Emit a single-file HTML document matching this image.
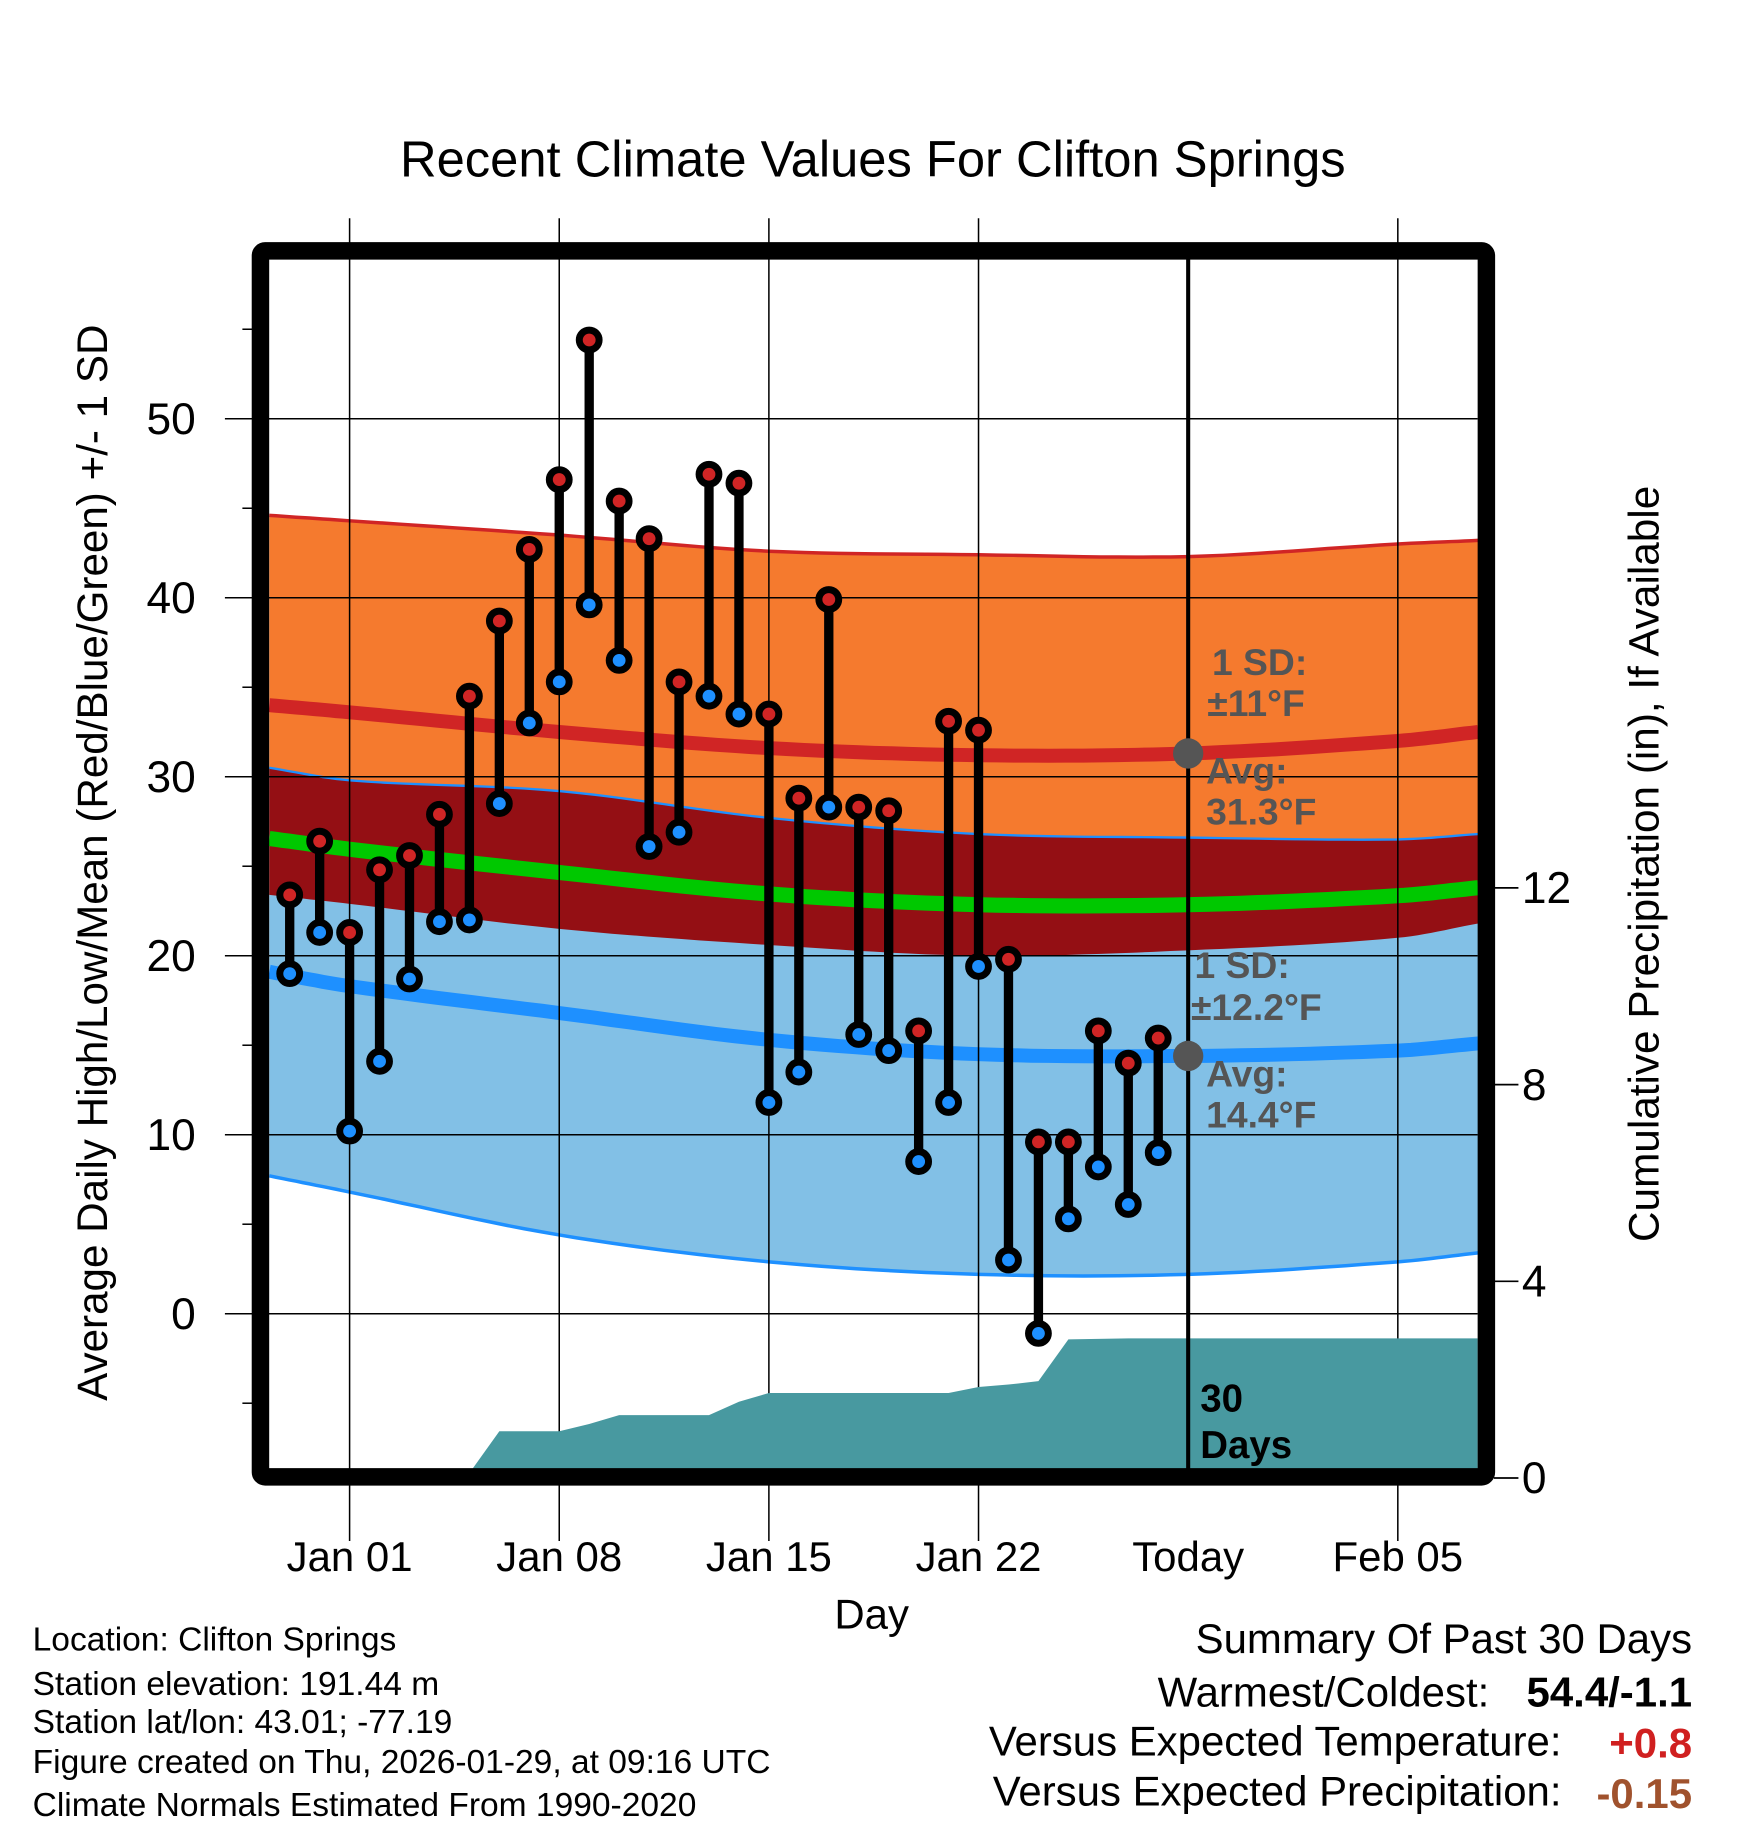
<!DOCTYPE html>
<html><head><meta charset="utf-8"><style>
html,body{margin:0;padding:0;background:#fff}
svg{display:block}
text{font-family:"Liberation Sans",sans-serif}
</style></head><body>
<svg id="chart" width="1748" height="1828" viewBox="0 0 1500 1568" xmlns="http://www.w3.org/2000/svg">
<rect x="0" y="0" width="1500" height="1568" fill="#fff"/>
<g id="bands"></g>
<g id="grid"></g>
<g id="precip"></g>
<g id="marks"></g>
<g id="frame"></g>
<text x="749" y="151" font-size="43.5" text-anchor="middle">Recent Climate Values For Clifton Springs</text>
<text transform="translate(92,740) rotate(-90)" font-size="36.2" text-anchor="middle">Average Daily High/Low/Mean (Red/Blue/Green) +/- 1 SD</text>
<text transform="translate(1423,741) rotate(-90)" font-size="36.3" text-anchor="middle">Cumulative Precipitation (in), If Available</text>
<text x="748" y="1397" font-size="36" text-anchor="middle">Day</text>
<g font-size="32" font-weight="bold" fill="#555">
<text x="1040" y="579">1 SD:</text><text x="1036" y="614">±11°F</text>
<text x="1035" y="672">Avg:</text><text x="1035" y="707">31.3°F</text></g>
<g font-size="32" font-weight="bold" fill="#555">
<text x="1025" y="839">1 SD:</text><text x="1022" y="875">±12.2°F</text>
<text x="1035" y="932">Avg:</text><text x="1035" y="967">14.4°F</text></g>
<text x="1030" y="1211" font-size="33" font-weight="bold">30</text>
<text x="1030" y="1251" font-size="33" font-weight="bold">Days</text>
<g font-size="28.8">
<text x="28" y="1416">Location: Clifton Springs</text>
<text x="28" y="1454">Station elevation: 191.44 m</text>
<text x="28" y="1487">Station lat/lon: 43.01; -77.19</text>
<text x="28" y="1521">Figure created on Thu, 2026-01-29, at 09:16 UTC</text>
<text x="28" y="1558">Climate Normals Estimated From 1990-2020</text></g>
<g font-size="36" text-anchor="end">
<text x="1452" y="1418">Summary Of Past 30 Days</text>
<text x="1278" y="1464">Warmest/Coldest:</text>
<text x="1452" y="1464" font-weight="bold">54.4/-1.1</text>
<text x="1340" y="1506">Versus Expected Temperature:</text>
<text x="1452" y="1508" font-weight="bold" fill="#d02020">+0.8</text>
<text x="1340" y="1549">Versus Expected Precipitation:</text>
<text x="1452" y="1551" font-weight="bold" fill="#a0522d">-0.15</text></g>
</svg>
<script>
// day offsets relative to Jan 01
const obsDays = [-2,-1,0,1,2,3,4,5,6,7,8,9,10,11,12,13,14,15,16,17,18,19,20,21,22,23,24,25,26,27];
const highs = [23.4,26.4,21.3,24.8,25.6,27.9,34.5,38.7,42.7,46.6,54.4,45.4,43.3,35.3,46.9,46.4,33.5,28.8,39.9,28.3,28.1,15.8,33.1,32.6,19.8,9.6,9.6,15.8,14.0,15.4];
const lows = [19.0,21.3,10.2,14.1,18.7,21.9,22.0,28.5,33.0,35.3,39.6,36.5,26.1,26.9,34.5,33.5,11.8,13.5,28.3,15.6,14.7,8.5,11.8,19.4,3.0,-1.1,5.3,8.2,6.1,9.0];
const precip = [0,0,0,0,0.01,0.04,0.1,0.95,0.95,0.95,1.1,1.28,1.28,1.28,1.28,1.55,1.73,1.73,1.73,1.73,1.73,1.73,1.73,1.85,1.9,1.97,2.82,2.83,2.84,2.84];
const normDays = [-2.68,0,7,14,21,28,35,37.68];
const highNorm = [34.0,33.6,32.5,31.6,31.2,31.3,32.0,32.5];
const highSD = [10.6,10.7,11.0,11.0,11.2,11.0,11.0,10.7];
const lowNorm = [19.1,18.3,16.8,15.3,14.5,14.4,14.7,15.1];
const lowSD = [11.4,11.5,12.4,12.4,12.3,12.2,11.8,11.7];
const xTickDays = [0,7,14,21,28,35];
const xTickLabels = ["Jan 01","Jan 08","Jan 15","Jan 22","Today","Feb 05"];
const yTicks = [0,10,20,30,40,50];
const pTicks = [0,4,8,12];

const NS="http://www.w3.org/2000/svg";
const X0=231,X1=1268,Y0=222,Y1=1260;
const xs=d=>300+d*25.7;
const ys=v=>1127-15.36*v;
const yp=p=>1268-42.2*p;
function mk(tag,attrs,parent){const e=document.createElementNS(NS,tag);for(const k in attrs)e.setAttribute(k,attrs[k]);parent.appendChild(e);return e;}
// monotone-ish cubic hermite sampling with non-uniform spacing
function sample(arr){const n=normDays.length;const m=[];for(let i=0;i<n;i++){if(i===0)m.push((arr[1]-arr[0])/(normDays[1]-normDays[0]));else if(i===n-1)m.push((arr[n-1]-arr[n-2])/(normDays[n-1]-normDays[n-2]));else m.push((arr[i+1]-arr[i-1])/(normDays[i+1]-normDays[i-1]));}
const pts=[];for(let i=0;i<n-1;i++){const h=normDays[i+1]-normDays[i];for(let s=0;s<12;s++){const t=s/12;const h00=2*t*t*t-3*t*t+1,h10=t*t*t-2*t*t+t,h01=-2*t*t*t+3*t*t,h11=t*t*t-t*t;pts.push([normDays[i]+h*t,h00*arr[i]+h10*h*m[i]+h01*arr[i+1]+h11*h*m[i+1]]);}}pts.push([normDays[n-1],arr[n-1]]);return pts;}
const hN=sample(highNorm),hS=sample(highSD),lN=sample(lowNorm),lS=sample(lowSD);
const hU=hN.map((p,i)=>[p[0],p[1]+hS[i][1]]),hL=hN.map((p,i)=>[p[0],p[1]-hS[i][1]]);
const lU=lN.map((p,i)=>[p[0],p[1]+lS[i][1]]),lL=lN.map((p,i)=>[p[0],p[1]-lS[i][1]]);
const mean=hN.map((p,i)=>[p[0],(p[1]+lN[i][1])/2]);
const line=pts=>pts.map((p,i)=>(i?'L':'M')+xs(p[0]).toFixed(1)+','+ys(p[1]).toFixed(1)).join('');
const poly=(a,b)=>line(a)+b.slice().reverse().map(p=>'L'+xs(p[0]).toFixed(1)+','+ys(p[1]).toFixed(1)).join('')+'Z';
const bands=document.getElementById('bands');
let e;
e=mk('path',{d:poly(hU,hL),fill:'#f57a2e'},bands);


e=mk('path',{d:poly(lU,lL),fill:'#82c0e6'},bands);


e=mk('path',{d:poly(lU,hL),fill:'#940f14'},bands);


e=mk('path',{d:line(hU),fill:'none',stroke:'#d02525','stroke-width':3},bands);


e=mk('path',{d:line(lU),fill:'none',stroke:'#1e90ff','stroke-width':2},bands);


e=mk('path',{d:line(lL),fill:'none',stroke:'#1e90ff','stroke-width':3},bands);


e=mk('path',{d:line(hN),fill:'none',stroke:'#d02525','stroke-width':12},bands);


e=mk('path',{d:line(lN),fill:'none',stroke:'#1e90ff','stroke-width':12},bands);


e=mk('path',{d:line(mean),fill:'none',stroke:'#00c800','stroke-width':13},bands);



const grid=document.getElementById('grid');
xTickDays.forEach((d,i)=>{
  const x=xs(d);
  if(xTickLabels[i]!=="Today"){
    e=mk('line',{x1:x,x2:x,y1:187,y2:1322,stroke:'#000','stroke-width':1.3},grid);
    
    
  }
  e=mk('text',{x:x,y:1348,'font-size':36,'text-anchor':'middle'},grid);
  e.textContent=xTickLabels[i];
  
  
});
yTicks.forEach(v=>{
  const y=ys(v);
  e=mk('line',{x1:193,x2:X1,y1:y,y2:y,stroke:'#000','stroke-width':1.3},grid);
  
  
  e=mk('text',{x:168,y:y+13,'font-size':38,'text-anchor':'end'},grid);
  e.textContent=v;
  
  
});
for(let v=-5;v<=55;v+=10){const y=ys(v);e=mk('line',{x1:208,x2:218,y1:y,y2:y,stroke:'#000','stroke-width':1.3},grid);

}
pTicks.forEach(p=>{
  const y=yp(p);
  e=mk('line',{x1:1282,x2:1303,y1:y,y2:y,stroke:'#000','stroke-width':1.5},grid);
  
  
  e=mk('text',{x:1306,y:y+13,'font-size':38},grid);
  e.textContent=p;
  
  
});

const pg=document.getElementById('precip');
let pd='M'+X0+','+yp(0)+'L'+xs(obsDays[0]-0.5)+','+yp(0);
obsDays.forEach((d,i)=>{pd+='L'+xs(d).toFixed(1)+','+yp(precip[i]).toFixed(1);});
pd+='L'+X1+','+yp(precip[precip.length-1]).toFixed(1)+'L'+X1+','+Y1+'L'+X0+','+Y1+'Z';
e=mk('path',{d:pd,fill:'#4899a0'},pg);


e=mk('line',{x1:xs(28),x2:xs(28),y1:Y0,y2:Y1,stroke:'#000','stroke-width':3.5},pg);


e=mk('circle',{cx:xs(28),cy:ys(highNorm[5]),r:13,fill:'#555'},pg);


e=mk('circle',{cx:xs(28),cy:ys(lowNorm[5]),r:13,fill:'#555'},pg);



const mg=document.getElementById('marks');
obsDays.forEach((d,i)=>{
  const x=xs(d);
  e=mk('line',{x1:x,x2:x,y1:ys(highs[i]),y2:ys(lows[i]),stroke:'#000','stroke-width':8},mg);
  
  
});
obsDays.forEach((d,i)=>{
  const x=xs(d);
  e=mk('circle',{cx:x,cy:ys(highs[i]),r:8.5,fill:'#d02525',stroke:'#000','stroke-width':6},mg);
  
  
  e=mk('circle',{cx:x,cy:ys(lows[i]),r:8.5,fill:'#1e90ff',stroke:'#000','stroke-width':6},mg);
  
  
});

const fg=document.getElementById('frame');
e=mk('rect',{x:223.5,y:215,width:1052,height:1052,rx:4,fill:'none',stroke:'#000','stroke-width':15},fg);


</script>
</body></html>
